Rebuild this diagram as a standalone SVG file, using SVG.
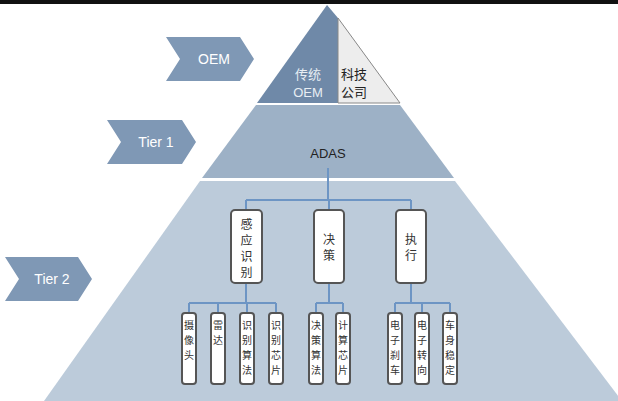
<svg xmlns="http://www.w3.org/2000/svg" width="618" height="401" viewBox="0 0 618 401">
<style>
.chev{fill:#7f98b5}
.ct{font-family:"Liberation Sans",sans-serif;font-size:14px;fill:#fff;text-anchor:middle}
.box{fill:#fff;stroke:#555;stroke-width:2}
.cn{font-family:"Noto Sans CJK SC",sans-serif;font-size:12px;fill:#333;text-anchor:middle}
.sm{font-family:"Noto Sans CJK SC",sans-serif;font-size:10px;fill:#333;text-anchor:middle}
.ln{stroke:#6d95c4;stroke-width:2;fill:none}
</style>
<rect width="618" height="401" fill="#fff"/>
<rect width="618" height="4" fill="#111"/>
<g id="tier-bottom"><polygon points="200,181 455,181 622,401 44,401" fill="#bccbda"/></g>
<g id="tier-middle"><polygon points="256,105 400,105 454,178 202,178" fill="#9db1c6"/>
<text x="328" y="158" font-family="Liberation Sans,sans-serif" font-size="13" fill="#222" text-anchor="middle">ADAS</text></g>
<g id="tier-top"><polygon points="327,5 338,18 338,103 257,103" fill="#6f89a8"/>
<polygon points="338,18 400,103 338,103" fill="#ededed" stroke="#888" stroke-width="1"/>
<text x="308" y="79" font-family="Noto Sans CJK SC,sans-serif" font-size="13" fill="#e8eef4" text-anchor="middle">传统</text>
<text x="308" y="97" font-family="Liberation Sans,sans-serif" font-size="13" fill="#e8eef4" text-anchor="middle">OEM</text>
<text x="354" y="79" font-family="Noto Sans CJK SC,sans-serif" font-size="13" fill="#222" text-anchor="middle">科技</text>
<text x="354" y="97" font-family="Noto Sans CJK SC,sans-serif" font-size="13" fill="#222" text-anchor="middle">公司</text></g>
<g id="oem"><polygon class="chev" points="166,37 240,37 254,59 240,81 166,81 180,59"/><text class="ct" x="214" y="64">OEM</text></g>
<g id="tier1"><polygon class="chev" points="107,120 182,120 196,142 182,164 107,164 121,142"/><text class="ct" x="156" y="147">Tier 1</text></g>
<g id="tier2"><polygon class="chev" points="5,257 78,257 92,279 78,301 5,301 19,279"/><text class="ct" x="52" y="284">Tier 2</text></g>
<g id="connectors">
<path class="ln" d="M328,168V200M246,200H411M246,200V210M329,200V210M411,200V210"/>
<path class="ln" d="M246,283V303M189,303H276M189,303V313M218,303V313M247,303V313M276,303V313"/>
<path class="ln" d="M329,283V303M316,303H343M316,303V313M343,303V313"/>
<path class="ln" d="M411,283V303M395,303H450M395,303V313M422,303V313M450,303V313"/>
</g>
<g id="n-sense"><rect class="box" x="231" y="210" width="31" height="73" rx="4"/><text class="cn" x="246.5" y="229">感</text><text class="cn" x="246.5" y="245">应</text><text class="cn" x="246.5" y="261">识</text><text class="cn" x="246.5" y="277">别</text></g>
<g id="n-decide"><rect class="box" x="314" y="210" width="30" height="73" rx="4"/><text class="cn" x="329" y="244">决</text><text class="cn" x="329" y="260">策</text></g>
<g id="n-exec"><rect class="box" x="396" y="210" width="30" height="73" rx="4"/><text class="cn" x="411" y="244">执</text><text class="cn" x="411" y="260">行</text></g>
<g id="n-cam"><rect class="box" x="182" y="313" width="14" height="71" rx="3"/><text class="sm" x="189" y="329">摄</text><text class="sm" x="189" y="344">像</text><text class="sm" x="189" y="359">头</text></g>
<g id="n-radar"><rect class="box" x="211" y="313" width="14" height="71" rx="3"/><text class="sm" x="218" y="329">雷</text><text class="sm" x="218" y="344">达</text></g>
<g id="n-ralg"><rect class="box" x="240" y="313" width="14" height="71" rx="3"/><text class="sm" x="247" y="329">识</text><text class="sm" x="247" y="344">别</text><text class="sm" x="247" y="359">算</text><text class="sm" x="247" y="374">法</text></g>
<g id="n-rchip"><rect class="box" x="269" y="313" width="14" height="71" rx="3"/><text class="sm" x="276" y="329">识</text><text class="sm" x="276" y="344">别</text><text class="sm" x="276" y="359">芯</text><text class="sm" x="276" y="374">片</text></g>
<g id="n-dalg"><rect class="box" x="309" y="313" width="14" height="71" rx="3"/><text class="sm" x="316" y="329">决</text><text class="sm" x="316" y="344">策</text><text class="sm" x="316" y="359">算</text><text class="sm" x="316" y="374">法</text></g>
<g id="n-cchip"><rect class="box" x="336" y="313" width="14" height="71" rx="3"/><text class="sm" x="343" y="329">计</text><text class="sm" x="343" y="344">算</text><text class="sm" x="343" y="359">芯</text><text class="sm" x="343" y="374">片</text></g>
<g id="n-brake"><rect class="box" x="388" y="313" width="14" height="71" rx="3"/><text class="sm" x="395" y="329">电</text><text class="sm" x="395" y="344">子</text><text class="sm" x="395" y="359">刹</text><text class="sm" x="395" y="374">车</text></g>
<g id="n-steer"><rect class="box" x="415" y="313" width="14" height="71" rx="3"/><text class="sm" x="422" y="329">电</text><text class="sm" x="422" y="344">子</text><text class="sm" x="422" y="359">转</text><text class="sm" x="422" y="374">向</text></g>
<g id="n-stab"><rect class="box" x="443" y="313" width="14" height="71" rx="3"/><text class="sm" x="450" y="329">车</text><text class="sm" x="450" y="344">身</text><text class="sm" x="450" y="359">稳</text><text class="sm" x="450" y="374">定</text></g>
</svg>
